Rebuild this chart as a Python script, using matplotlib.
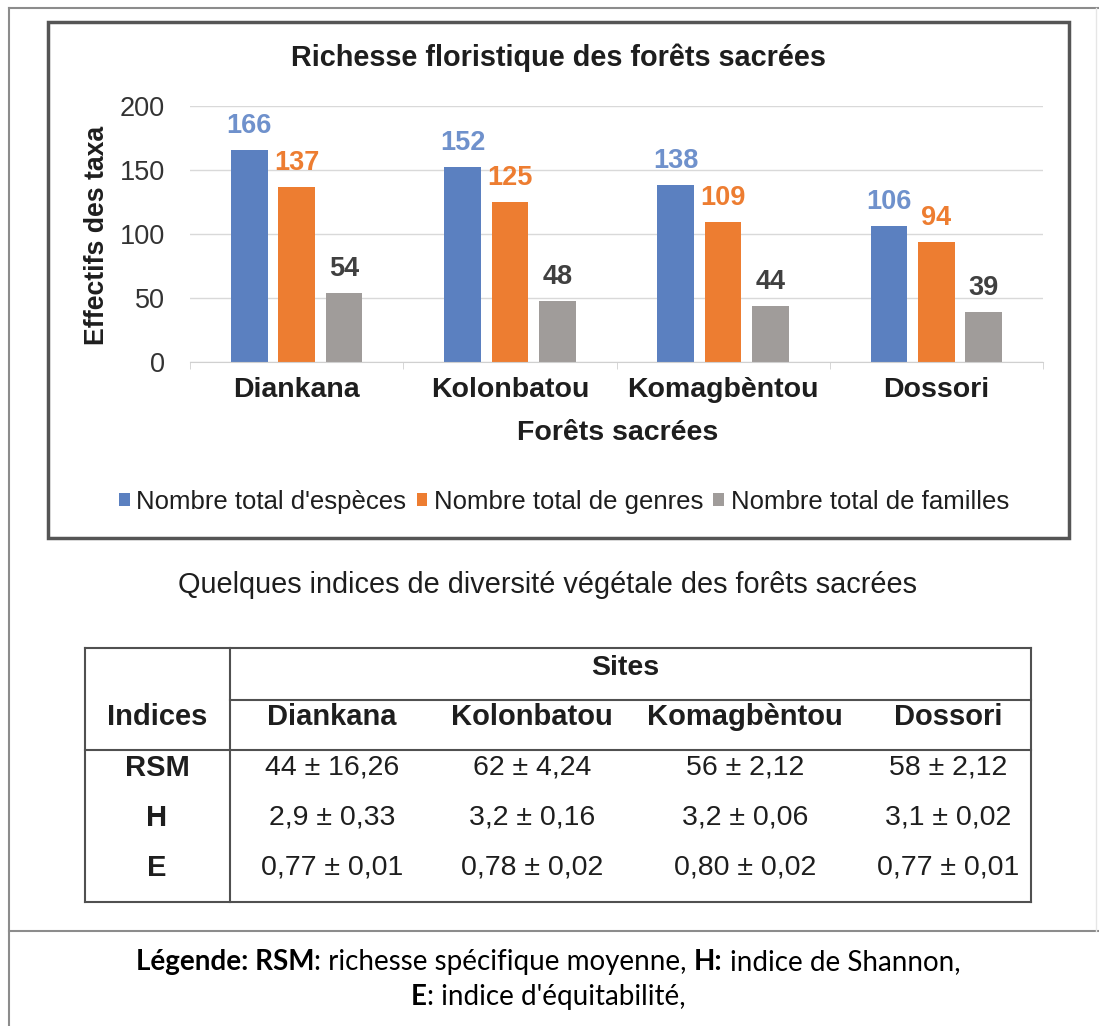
import numpy as np
import matplotlib.pyplot as plt
from matplotlib.patches import Rectangle

plt.rcParams['font.family'] = ['Liberation Sans', 'DejaVu Sans']

# Richesse floristique par forêt sacrée
forets = ['Diankana', 'Kolonbatou', 'Komagbèntou', 'Dossori']
especes = [166, 152, 138, 106]
genres = [137, 125, 109, 94]
familles = [54, 48, 44, 39]
series_noms = ["Nombre total d'espèces", "Nombre total de genres",
               "Nombre total de familles"]

# Indices de diversité (moyenne ± écart-type)
indices = ['RSM', 'H', 'E']
rsm = ['44 ± 16,26', '62 ± 4,24', '56 ± 2,12', '58 ± 2,12']
shannon = ['2,9 ± 0,33', '3,2 ± 0,16', '3,2 ± 0,06', '3,1 ± 0,02']
equit = ['0,77 ± 0,01', '0,78 ± 0,02', '0,80 ± 0,02', '0,77 ± 0,01']

W, H = 1099, 1026
fig = plt.figure(figsize=(W / 100, H / 100), dpi=100)

# full-figure axes in pixel units (y pointing down) for frames, table, texts
bg = fig.add_axes([0, 0, 1, 1], zorder=0)
bg.set_xlim(0, W)
bg.set_ylim(H, 0)
bg.axis('off')

txt = '#1e1e1e'
frame = '#8c8c8c'
bg.plot([9, 9], [8, H], color=frame, lw=1.5)
bg.plot([9, W], [8, 8], color=frame, lw=1.5)
bg.plot([9, W], [931, 931], color=frame, lw=1.5)
bg.plot([1096, 1096], [8, 931], color='#e6e6e6', lw=1)
bg.add_patch(Rectangle((48, 22), 1021, 516, fill=False, ec='#555555', lw=2.5))


def px_axes(x0, y0, x1, y1):
    return [x0 / W, 1 - y1 / H, (x1 - x0) / W, (y1 - y0) / H]


# ---- bar chart ----
ax = fig.add_axes(px_axes(190, 106, 1043, 362), zorder=1)
ax.patch.set_alpha(0)
x = np.arange(len(forets))
colors = ['#5b80c0', '#ed7d31', '#a09c9a']
label_colors = ['#6f91cc', '#ed7d31', '#404040']
width = 0.172
step = 0.222
for i, (vals, c, lc, name) in enumerate(zip([especes, genres, familles],
                                             colors, label_colors, series_noms)):
    pos = x + (i - 1) * step
    ax.bar(pos, vals, width, color=c, label=name, zorder=2)
    for p, v in zip(pos, vals):
        ax.annotate(str(v), (p, v), xytext=(0, 17), textcoords='offset pixels',
                    ha='center', va='baseline', fontsize=19.5,
                    fontweight='bold', color=lc)

ax.set_xlim(-0.5, 3.5)
ax.set_ylim(0, 200)
ax.set_yticks([0, 50, 100, 150, 200])
ax.yaxis.grid(True, color='#d9d9d9', lw=1)
ax.set_axisbelow(True)
for s in ['top', 'right', 'left']:
    ax.spines[s].set_visible(False)
ax.spines['bottom'].set_color('#d0d0d0')
ax.tick_params(axis='y', length=0, labelsize=19.5, pad=18, labelcolor='#333333')
ax.set_xticks(x, forets, fontweight='bold', fontsize=20.5, color=txt)
ax.tick_params(axis='x', which='major', length=0, pad=11)
ax.set_xticks(np.arange(-0.5, 4, 1), minor=True)
ax.tick_params(axis='x', which='minor', length=5, color='#d0d0d0')

bg.text(558, 58, 'Richesse floristique des forêts sacrées', ha='center',
        va='center', fontsize=20.8, fontweight='bold', color=txt)
bg.text(97, 235, 'Effectifs des taxa', rotation=90, ha='center', va='center',
        fontsize=19.2, fontweight='bold', color=txt)
bg.text(618, 433, 'Forêts sacrées', ha='center', va='center', fontsize=20.5,
        fontweight='bold', color=txt)

ax.legend(loc='center', bbox_to_anchor=(564 / W, 1 - 502 / H),
          bbox_transform=fig.transFigure, ncol=3, frameon=False, fontsize=18.5,
          handlelength=0.42, handleheight=0.42, handletextpad=0.25,
          columnspacing=0.4, borderaxespad=0, labelcolor=txt)

# ---- table ----
bg.text(548, 585, 'Quelques indices de diversité végétale des forêts sacrées',
        ha='center', va='center', fontsize=20.8, color=txt)

tl, tr = 85, 1031
tline = '#505050'
for yy in [648, 750, 902]:
    bg.plot([tl, tr], [yy, yy], color=tline, lw=1.5)
bg.plot([230, tr], [700, 700], color=tline, lw=1.5)
for xx in [tl, 230, tr]:
    bg.plot([xx, xx], [648, 902], color=tline, lw=1.5)

col_x = [157, 332, 532, 745, 948]
row_y = [768, 818, 868]
bg.text(625, 668, 'Sites', ha='center', va='center', fontsize=20.5,
        fontweight='bold', color=txt)
bg.text(col_x[0], 717, 'Indices', ha='center', va='center', fontsize=21,
        fontweight='bold', color=txt)
for cx, nom in zip(col_x[1:], forets):
    bg.text(cx, 717, nom, ha='center', va='center', fontsize=21,
            fontweight='bold', color=txt)
for ry, ind, vals in zip(row_y, indices, [rsm, shannon, equit]):
    bg.text(col_x[0], ry, ind, ha='center', va='center', fontsize=21,
            fontweight='bold', color=txt)
    for cx, v in zip(col_x[1:], vals):
        bg.text(cx, ry, v, ha='center', va='center', fontsize=20.5, color=txt)

# ---- legend of abbreviations (mixed bold / regular runs) ----
fam = ['Lato', 'Liberation Sans']
renderer = fig.canvas.get_renderer()


def run_width(s, weight, size):
    t = bg.text(0, 0, s, fontsize=size, fontweight=weight, family=fam)
    w = t.get_window_extent(renderer).width
    t.remove()
    return w


def mixed_line(pieces, xc, y, size):
    space = run_width('n n', 'normal', size) - run_width('nn', 'normal', size)
    widths = [run_width(s, wt, size) for s, wt, _ in pieces]
    total = sum(widths) + space * sum(1 for p in pieces if p[2])
    xpos = xc - total / 2
    for (s, wt, gap), w in zip(pieces, widths):
        bg.text(xpos, y, s, fontsize=size, fontweight=wt, family=fam,
                ha='left', va='center', color='black')
        xpos += w + (space if gap else 0)


mixed_line([('Légende: RSM', 'bold', False),
            (': richesse spécifique moyenne,', 'normal', True),
            ('H:', 'bold', True),
            ('indice de Shannon,', 'normal', False)], 548, 962, 20)
mixed_line([('E', 'bold', False),
            (": indice d'équitabilité,", 'normal', False)], 548, 997, 20)

fig.savefig('out.png', dpi=100)
